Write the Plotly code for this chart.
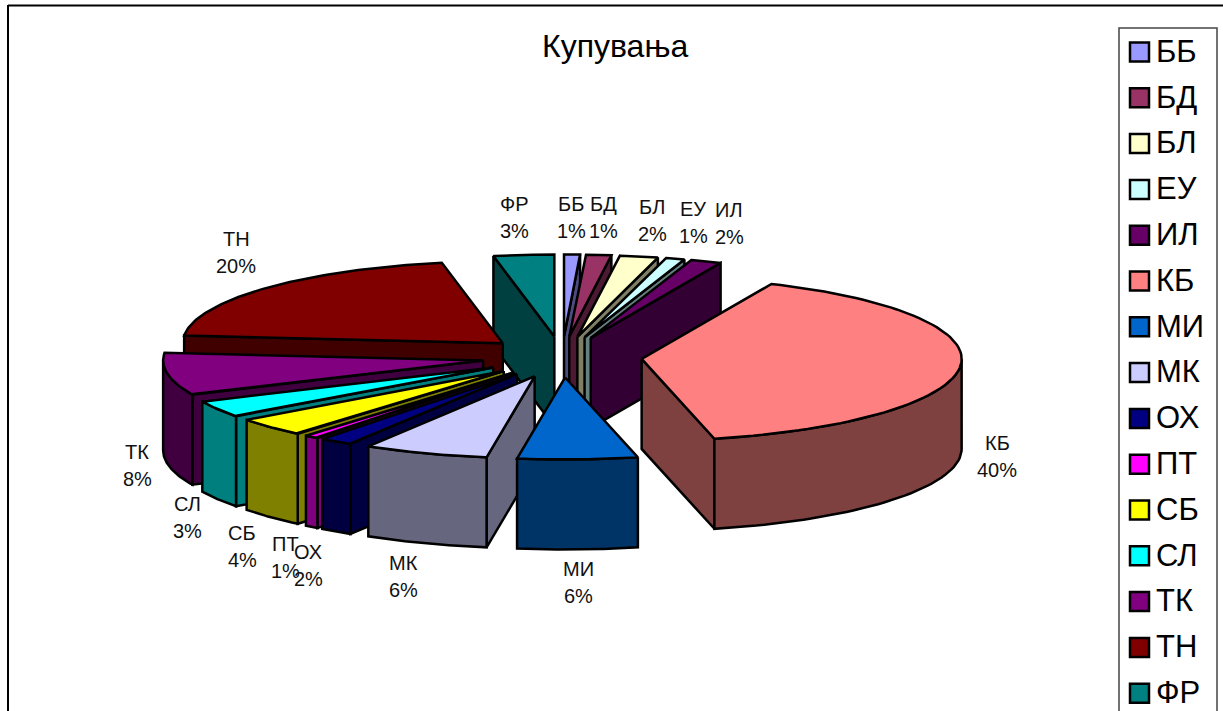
import numpy as np
import plotly.graph_objects as go

# ---- data ----
CATEGORIES = ["ББ", "БД", "БЛ", "ЕУ", "ИЛ", "КБ", "МИ", "МК", "ОХ", "ПТ", "СБ", "СЛ", "ТК", "ТН", "ФР"]
SHARES = [0.8, 1.3, 1.95, 1.0, 1.6, 39.7, 6.05, 6.3, 1.7, 0.73, 3.72, 3.3, 8.35, 20.45, 3.05]
COLORS = ["#9999FF", "#993366", "#FFFFCC", "#CCFFFF", "#660066", "#FF8080", "#0066CC", "#CCCCFF",
          "#000080", "#FF00FF", "#FFFF00", "#00FFFF", "#800080", "#800000", "#008080"]
TITLE = "Купувања"

# ---- layout constants (pixels on a page-sized axis) ----
W, H = 1223, 711
CX, CY = 562, 357      # pie centre
RX, RY = 320, 82       # ellipse of the tilted disc
DEPTH = 90             # thickness
EXPLODE = 80           # distance each slice is pulled out
LINE = 2.5
LABEL_POS = {"ФР": (514, 217), "ББ": (571, 217), "БД": (603, 217), "БЛ": (652, 220), "ЕУ": (693, 222),
             "ИЛ": (729, 223), "КБ": (997, 456), "МИ": (578, 582), "МК": (403, 576), "ОХ": (308, 565),
             "ПТ": (285, 557), "СБ": (242, 546), "СЛ": (187, 517), "ТК": (137, 465), "ТН": (236, 252)}
FONT = "Liberation Sans, Arial, sans-serif"


def shade(hex_color, f=0.5):
    r, g, b = (int(hex_color[i:i + 2], 16) for i in (1, 3, 5))
    return f"rgb({int(r * f)},{int(g * f)},{int(b * f)})"


def rim(ax, ay, t):
    return ax + RX * np.sin(t), ay - RY * np.cos(t)


def poly(xs, ys, fill, name):
    return go.Scatter(x=list(xs) + [xs[0]], y=list(ys) + [ys[0]], mode="lines", fill="toself",
                      fillcolor=fill, line=dict(color="black", width=LINE), hoverinfo="name",
                      name=name, showlegend=False)


total = sum(SHARES)
edges = np.concatenate([[0.0], np.cumsum(SHARES)]) / total * 2 * np.pi
slices = []
for i, name in enumerate(CATEGORIES):
    t0, t1 = edges[i], edges[i + 1]
    mid = (t0 + t1) / 2
    slices.append(dict(i=i, t0=t0, t1=t1, mid=mid,
                       ax=CX + EXPLODE * np.sin(mid),
                       ay=CY - EXPLODE * RY / RX * np.cos(mid)))

fig = go.Figure()
# paint from the back of the disc to the front
for s in sorted(slices, key=lambda s: -np.cos(s["mid"])):
    name, col = CATEGORIES[s["i"]], COLORS[s["i"]]
    dark = shade(col)
    ax, ay, t0, t1 = s["ax"], s["ay"], s["t0"], s["t1"]

    # cut faces turned towards the viewer
    for t, show in ((t0, np.sin(t0) < 0), (t1, np.sin(t1) > 0)):
        if show:
            rx_, ry_ = rim(ax, ay, t)
            fig.add_trace(poly([ax, rx_, rx_, ax], [ay, ry_, ry_ + DEPTH, ay + DEPTH], dark, name))

    # outer curved wall: only the front half of the disc
    a, b = max(t0, np.pi / 2), min(t1, 3 * np.pi / 2)
    if b > a:
        ts = np.linspace(a, b, 50)
        x, y = rim(ax, ay, ts)
        fig.add_trace(poly(np.r_[x, x[::-1]], np.r_[y, y[::-1] + DEPTH], dark, name))

    # top face
    ts = np.linspace(t0, t1, 80)
    x, y = rim(ax, ay, ts)
    fig.add_trace(poly(np.r_[ax, x], np.r_[ay, y], col, name))

annotations = []
for name, share in zip(CATEGORIES, SHARES):
    lx, ly = LABEL_POS[name]
    for text, dy in ((name, -13), (f"{round(share)}%", 14)):
        annotations.append(dict(x=lx, y=ly + dy, xref="x", yref="y", text=text, showarrow=False,
                                font=dict(family=FONT, size=20, color="#111111")))

# legend column
LEG_Y0, LEG_STEP = 52, 45.8
leg_y = [LEG_Y0 + LEG_STEP * i for i in range(len(CATEGORIES))]
leg_text_y = [y + 2 for y in leg_y]
fig.add_trace(go.Scatter(x=[1139.5] * len(CATEGORIES), y=leg_y, mode="markers", hoverinfo="skip",
                         marker=dict(symbol="square", size=19, color=COLORS,
                                     line=dict(color="black", width=2.5)), showlegend=False))
fig.add_trace(go.Scatter(x=[1156] * len(CATEGORIES), y=leg_text_y, mode="text", text=CATEGORIES,
                         textposition="middle right", hoverinfo="skip",
                         textfont=dict(family=FONT, size=31, color="black"), showlegend=False))

shapes = [
    dict(type="line", x0=8, y0=5.5, x1=W, y1=5.5, line=dict(color="black", width=2)),
    dict(type="line", x0=8, y0=5, x1=8, y1=H + 5, line=dict(color="black", width=2)),
    dict(type="rect", x0=1119, y0=28, x1=1217, y1=H + 20, line=dict(color="#444444", width=1.5)),
]
annotations.append(dict(x=615, y=46, xref="x", yref="y", text=TITLE, showarrow=False,
                        font=dict(family=FONT, size=32, color="black")))

fig.update_layout(width=W, height=H, margin=dict(l=0, r=0, t=0, b=0), showlegend=False,
                  paper_bgcolor="white", plot_bgcolor="white", annotations=annotations, shapes=shapes,
                  xaxis=dict(range=[0, W], visible=False, fixedrange=True),
                  yaxis=dict(range=[H, 0], visible=False, fixedrange=True))
fig.write_html("out.html", config=dict(displayModeBar=False),
               post_script="document.body.style.margin='0';document.body.style.overflow='hidden';")
